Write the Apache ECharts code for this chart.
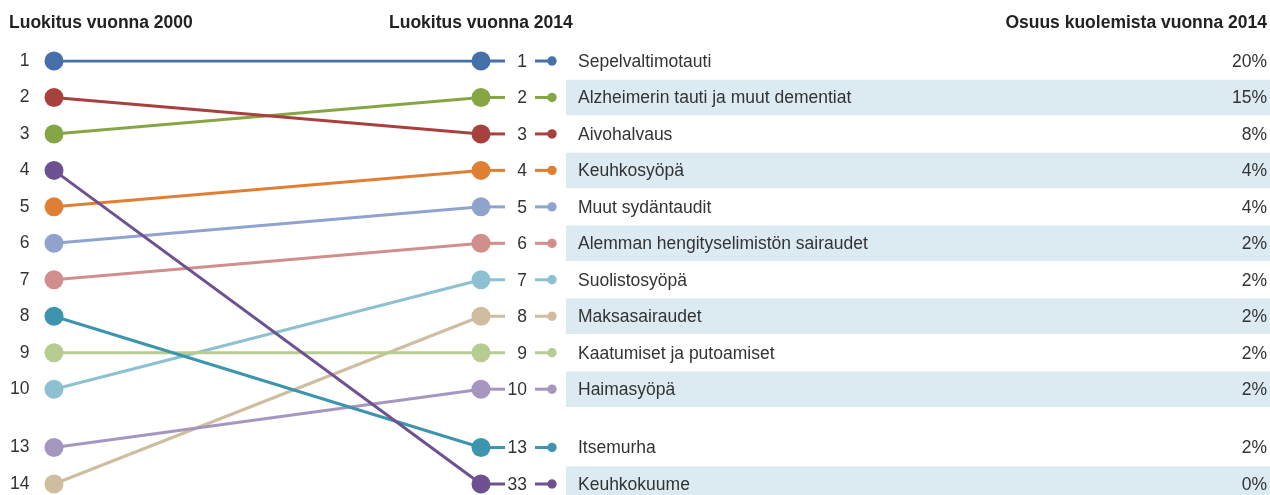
<!DOCTYPE html>
<html>
	<head>
		<meta charset="utf-8">
		<script type="text/javascript" src="https://cdn.jsdelivr.net/npm/echarts@6/dist/echarts.min.js"></script>
		<style>
			html, body { margin: 0; padding: 0; background: #fff; }
		</style>
	</head>
	<body>
		<div id="main" style="width:1270px;height:495px;"></div>

		<script type="text/javascript">
			// data
			var causes = [
				'Sepelvaltimotauti',
				'Alzheimerin tauti ja muut dementiat',
				'Aivohalvaus',
				'Keuhkosyöpä',
				'Muut sydäntaudit',
				'Alemman hengityselimistön sairaudet',
				'Suolistosyöpä',
				'Maksasairaudet',
				'Kaatumiset ja putoamiset',
				'Haimasyöpä',
				'Itsemurha',
				'Keuhkokuume'
			];
			var rank2000 = [1, 3, 2, 5, 6, 7, 10, 14, 9, 13, 8, 4];
			var rank2014 = [1, 2, 3, 4, 5, 6, 7, 8, 9, 10, 13, 33];
			var share2014 = [20, 15, 8, 4, 4, 2, 2, 2, 2, 2, 2, 0];
			var colors = ['#4570a9', '#86a545', '#a8413e', '#df7f34', '#8fa3cd', '#d08e8d',
				'#8dc1d1', '#cebd9f', '#b7cc91', '#a696bf', '#3c95ad', '#6d5190'];

			var font = '"Liberation Sans", Arial, sans-serif';
			var fontSize = 17.5;
			var textColor = '#333';

			// ranks 1-10 get one row each, the lower ranks sit under a gap
			function slot(r) {
				if (r <= 10) return r;
				if (r <= 13) return 11.6;
				return 12.6;
			}

			var myChart = echarts.init(document.getElementById('main'), null, { renderer: 'canvas' });

			var series = [];

			// rows on the right: key line, rank, band, name, share
			series.push({
				type: 'custom',
				silent: true,
				z: 1,
				data: rank2014.map(function (r, i) { return [slot(r), i]; }),
				renderItem: function (params, api) {
					var i = api.value(1);
					var p = api.coord([1, api.value(0)]);
					var rowH = api.size([0, 1])[1];
					var w = api.getWidth();
					var c = colors[i];
					var f = fontSize + 'px ' + font;
					var kids = [];
					if (i % 2 === 1) {
						kids.push({ type: 'rect', shape: { x: p[0] + 85, y: p[1] - rowH / 2 + 0.5, width: w - p[0] - 85, height: rowH - 1 },
							style: { fill: '#dcebf2' } });
					}
					kids.push({ type: 'line', shape: { x1: p[0], y1: p[1], x2: p[0] + 24, y2: p[1] }, style: { stroke: c, lineWidth: 3 } });
					kids.push({ type: 'text', x: p[0] + 46, y: p[1] + 1, style: { text: String(rank2014[i]), align: 'right', verticalAlign: 'middle',
						font: f, fill: textColor } });
					kids.push({ type: 'line', shape: { x1: p[0] + 54, y1: p[1], x2: p[0] + 71, y2: p[1] }, style: { stroke: c, lineWidth: 3 } });
					kids.push({ type: 'circle', shape: { cx: p[0] + 71, cy: p[1], r: 4.7 }, style: { fill: c } });
					kids.push({ type: 'text', x: p[0] + 97, y: p[1] + 1, style: { text: causes[i], align: 'left', verticalAlign: 'middle',
						font: f, fill: textColor } });
					kids.push({ type: 'text', x: w - 3, y: p[1] + 1, style: { text: share2014[i] + '%', align: 'right', verticalAlign: 'middle',
						font: f, fill: textColor } });
					return { type: 'group', children: kids };
				}
			});

			// slope lines 2000 -> 2014
			causes.forEach(function (name, i) {
				series.push({
					type: 'line',
					name: name,
					z: 3,
					symbol: 'circle',
					symbolSize: 19,
					color: colors[i],
					lineStyle: { width: 3, color: colors[i] },
					itemStyle: { color: colors[i] },
					emphasis: { disabled: true },
					data: [
						{
							value: [0, slot(rank2000[i])],
							label: {
								show: true,
								position: 'left',
								distance: 15,
								formatter: String(rank2000[i]),
								fontSize: fontSize,
								fontFamily: font,
								color: textColor
							}
						},
						[1, slot(rank2014[i])]
					]
				});
			});

			var titleStyle = { fontSize: fontSize, fontWeight: 'bold', fontFamily: font, color: '#222' };

			var option = {
				animation: false,
				title: [
					{ text: 'Luokitus vuonna 2000', left: 9, top: 14, padding: 0, textStyle: titleStyle },
					{ text: 'Luokitus vuonna 2014', left: 389, top: 14, padding: 0, textStyle: titleStyle },
					{ text: 'Osuus kuolemista vuonna 2014', right: 3, top: 14, padding: 0, textStyle: titleStyle }
				],
				grid: { left: 54, right: 789, top: 61, bottom: 11 },
				xAxis: { type: 'value', min: 0, max: 1, show: false },
				yAxis: { type: 'value', min: 1, max: 12.6, inverse: true, show: false },
				series: series
			};

			myChart.setOption(option);
		</script>
	</body>
</html>
